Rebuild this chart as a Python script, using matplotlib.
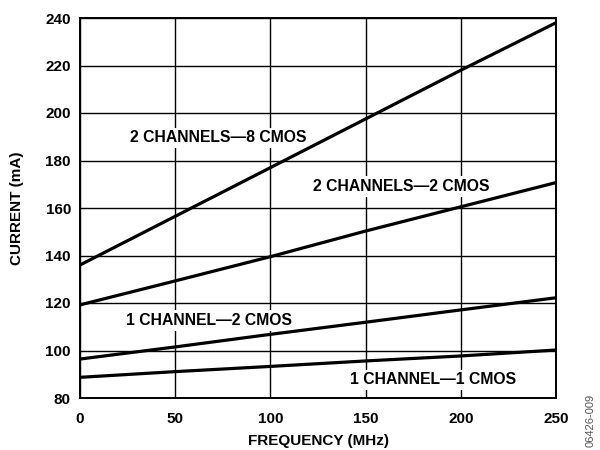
import matplotlib
matplotlib.use("Agg")
import matplotlib.pyplot as plt

plt.rcParams['font.family'] = ['Liberation Sans', 'DejaVu Sans']

freq = [0, 50, 100, 150, 200, 250]
ch2_cmos8 = [136, 156.5, 177, 197.5, 218, 238]
ch2_cmos2 = [119.2, 129.3, 139.5, 150.3, 160.5, 170.7]
ch1_cmos2 = [96.4, 101.5, 106.8, 111.9, 117.1, 122.2]
ch1_cmos1 = [88.7, 91.1, 93.3, 95.6, 97.7, 100.2]

labels = ["2 CHANNELS\u20148 CMOS", "2 CHANNELS\u20142 CMOS",
          "1 CHANNEL\u20142 CMOS", "1 CHANNEL\u20141 CMOS"]
label_pos = [(72.7, 189.5), (168.5, 169), (67.5, 112.5), (185.4, 87.6)]

xticks = [0, 50, 100, 150, 200, 250]
yticks = [80, 100, 120, 140, 160, 180, 200, 220, 240]

fig = plt.figure(figsize=(6, 4.5), dpi=100)
ax = fig.add_axes([80/600, 1-398/450, 476/600, 380/450])

for s in [ch2_cmos8, ch2_cmos2, ch1_cmos2, ch1_cmos1]:
    ax.plot(freq, s, color='black', lw=2.3, solid_capstyle='butt', zorder=3, clip_on=False)

for t, (x, y) in zip(labels, label_pos):
    ax.text(x, y, t, ha='center', va='center', fontsize=11.3, fontweight='bold',
            bbox=dict(facecolor='white', edgecolor='none', pad=2), zorder=2)

ax.set_xlim(0, 250)
ax.set_ylim(80, 240)
ax.set_xticks(xticks)
ax.set_yticks(yticks)
ax.grid(True, color='black', lw=1.0)
ax.set_axisbelow(True)
ax.tick_params(axis='y', length=0, labelsize=11, pad=6.5)
ax.tick_params(axis='x', length=0, labelsize=11, pad=10)
for lab in ax.get_xticklabels() + ax.get_yticklabels():
    lab.set_fontweight('bold')
for sp in ax.spines.values():
    sp.set_linewidth(1.4)

fig.text(319/600, 1-441/450, "FREQUENCY (MHz)", fontsize=11, fontweight='bold',
         ha='center', va='center')
fig.text(17.5/600, 1-208/450, "CURRENT (mA)", fontsize=11, fontweight='bold',
         ha='center', va='center', rotation=90)

fig.text(591/600, 1-447/450, "06426-009", rotation=90, fontsize=8, color='#555555',
         ha='center', va='bottom')

fig.savefig("out.png", dpi=100)
